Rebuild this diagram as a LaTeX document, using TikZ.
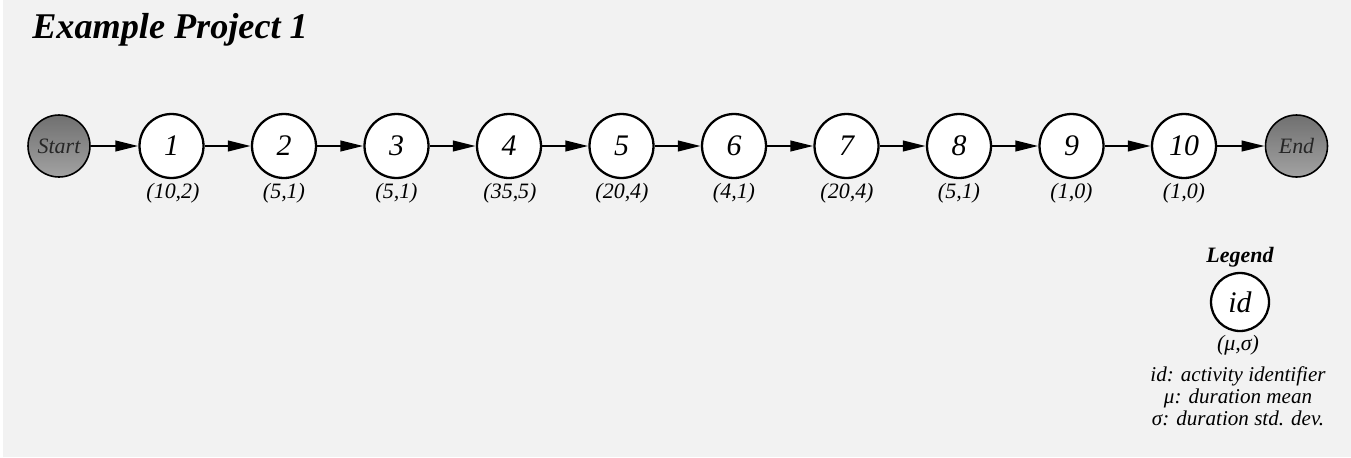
\documentclass[tikz,border=0pt]{standalone}
\usepackage{fontspec}
\setmainfont{Liberation Serif}
\usetikzlibrary{arrows.meta}
\definecolor{bgcol}{HTML}{F2F2F2}
\definecolor{topgrey}{HTML}{707070}
\definecolor{botgrey}{HTML}{A2A2A2}

\tikzset{
  act/.style={circle, draw, line width=1.3pt, fill=white, minimum size=1.28cm, inner sep=0pt,
    font=\fontsize{17}{19}\selectfont\itshape},
  term/.style={circle, draw, line width=0.9pt, top color=topgrey, bottom color=botgrey,
    minimum size=1.24cm, inner sep=0pt, text=black!85, font=\fontsize{12.5}{14}\selectfont\itshape},
  dur/.style={font=\fontsize{12.5}{14}\selectfont\itshape, inner sep=0pt},
  flow/.style={line width=1.4pt, -{Triangle[length=4.6mm,width=2.1mm]}}
}

\begin{document}
\begin{tikzpicture}[x=0.02cm, y=-0.02cm]
        % Background
        \useasboundingbox (0,0) rectangle (1351,457);
        \fill[white] (0,0) rectangle (1351,457);
        \fill[bgcol] (3,0) rectangle (1351,457);

        % Title
        \node[anchor=west, inner sep=0pt, font=\fontsize{20.6}{24}\selectfont\bfseries\itshape] (title) at (32,30) {Example Project 1};

        % Start, activities and end
        \node[term] (start) at (59,146) {Start};
        \node[act] (a1) at (171.5,146) {1};
        \node[act] (a2) at (284,146) {2};
        \node[act] (a3) at (396.5,146) {3};
        \node[act] (a4) at (509,146) {4};
        \node[act] (a5) at (621.5,146) {5};
        \node[act] (a6) at (734,146) {6};
        \node[act] (a7) at (846.5,146) {7};
        \node[act] (a8) at (959,146) {8};
        \node[act] (a9) at (1071.5,146) {9};
        \node[act] (a10) at (1184,146) {10};
        \node[term] (end) at (1296.5,146) {End};

        % Durations (mean, std. dev.)
        \node[dur] (d1) at (173,193) {(10,2)};
        \node[dur] (d2) at (284,193) {(5,1)};
        \node[dur] (d3) at (396.5,193) {(5,1)};
        \node[dur] (d4) at (510,193) {(35,5)};
        \node[dur] (d5) at (622,193) {(20,4)};
        \node[dur] (d6) at (734,193) {(4,1)};
        \node[dur] (d7) at (847,193) {(20,4)};
        \node[dur] (d8) at (959,193) {(5,1)};
        \node[dur] (d9) at (1071.5,193) {(1,0)};
        \node[dur] (d10) at (1184,193) {(1,0)};

        % Precedence arrows
        \draw[flow] (start) -- (a1);
        \draw[flow] (a1) -- (a2);
        \draw[flow] (a2) -- (a3);
        \draw[flow] (a3) -- (a4);
        \draw[flow] (a4) -- (a5);
        \draw[flow] (a5) -- (a6);
        \draw[flow] (a6) -- (a7);
        \draw[flow] (a7) -- (a8);
        \draw[flow] (a8) -- (a9);
        \draw[flow] (a9) -- (a10);
        \draw[flow] (a10) -- (end);

        % Legend
        \node[inner sep=0pt, font=\fontsize{12.5}{14}\selectfont\bfseries\itshape] (legtitle) at (1240,257) {Legend};
        \node[act, minimum size=1.16cm] (legnode) at (1240,302) {id};
        \node[dur] (legdur) at (1238,345) {(μ,σ)};
        \node[dur, align=center, font=\fontsize{12}{12.6}\selectfont\itshape] (legtext) at (1238,396)
          {id: activity identifier\\ μ: duration mean\\ σ: duration std. dev.};
    \end{tikzpicture}
\end{document}
